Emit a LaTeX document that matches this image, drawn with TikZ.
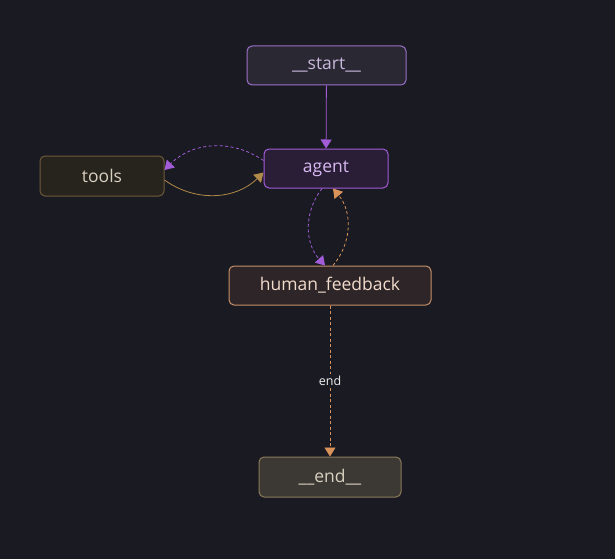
\documentclass[tikz,border=0pt]{standalone}
\usepackage{fontspec}
\setmainfont{Open Sans}
\usetikzlibrary{arrows.meta}

\definecolor{bgcol}{HTML}{1A1B22}
\definecolor{purp}{HTML}{A25CD8}
\definecolor{purpline}{HTML}{9B6FC7}
\definecolor{gold}{HTML}{B08A48}
\definecolor{orng}{HTML}{D9935A}
\definecolor{startfill}{HTML}{2A2833}
\definecolor{starttext}{HTML}{C8B8DC}
\definecolor{agentfill}{HTML}{291E36}
\definecolor{agenttext}{HTML}{D9B8F2}
\definecolor{toolsline}{HTML}{6E5A3A}
\definecolor{toolsfill}{HTML}{27231D}
\definecolor{beigetext}{HTML}{D8D0C0}
\definecolor{humanline}{HTML}{C8906A}
\definecolor{humanfill}{HTML}{2D2527}
\definecolor{humantext}{HTML}{F2DCCB}
\definecolor{endline}{HTML}{8A7A5A}
\definecolor{endfill}{HTML}{3C3934}
\definecolor{labeltext}{HTML}{EEEEEE}

\tikzset{
    box/.style={rectangle, rounded corners=5pt, line width=1pt, minimum height=39pt,
        font=\fontsize{17.5}{20}\selectfont},
    tip/.style={-{Triangle[width=11pt,length=9pt]}},
    fineDash/.style={dash pattern=on 3pt off 2.5pt},
}

\begin{document}
\begin{tikzpicture}[x=1pt,y=1pt]

        \fill[bgcol] (0,0) rectangle (615,-559);
        \useasboundingbox (0,0) rectangle (615,-559);

        \node[box, draw=purpline, fill=startfill, text=starttext, minimum width=159pt] (start) at (326.5,-65.5) {\_\_start\_\_};
        \node[box, draw=purp, fill=agentfill, text=agenttext, minimum width=124pt] (agent) at (326,-168.5) {agent};
        \node[box, draw=toolsline, fill=toolsfill, text=beigetext, minimum width=124pt, minimum height=40pt] (tools) at (102,-176) {tools};
        \node[box, draw=humanline, fill=humanfill, text=humantext, minimum width=202pt] (human) at (330,-285.5) {human\_feedback};
        \node[box, draw=endline, fill=endfill, text=beigetext, minimum width=142pt, minimum height=40pt] (finish) at (330,-477) {\_\_end\_\_};

    \begin{scope}[line width=0.8pt]

        \draw [tip, purp] (start) -- (agent);
        \draw [tip, purp, fineDash] ([yshift=8pt]agent.west) to[bend right=40] ([yshift=6pt]tools.east);
        \draw [tip, gold] ([yshift=-4pt]tools.east) to[bend right=40] ([yshift=-4pt]agent.west);
        \draw [tip, purp, fineDash] ([xshift=-4pt]agent.south) to[bend right=40] ([xshift=-5pt]human.north);
        \draw [tip, orng, fineDash] ([xshift=3pt]human.north) to[bend right=40] ([xshift=7pt]agent.south);
        \draw [tip, orng, fineDash] (human) -- node[fill=bgcol, text=labeltext, inner sep=2pt, font=\fontsize{12.5}{14}\selectfont] {end} (finish);

    \end{scope}

\end{tikzpicture}
\end{document}
